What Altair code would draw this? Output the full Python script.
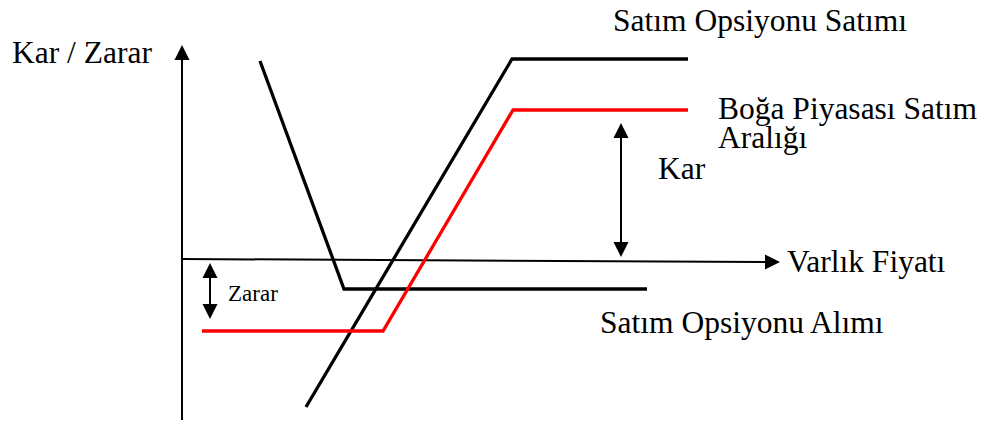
import altair as alt
import pandas as pd

# --- payoff curves (x: asset price units, y: profit / loss units) ---
sell_put_x = [12.4, 33.0, 50.6]          # Satım Opsiyonu Satımı (black)
sell_put_y = [-14.8, 20.0, 20.0]
bull_put_x = [2.0, 20.1, 33.1, 50.6]     # Boğa Piyasası Satım Aralığı (red)
bull_put_y = [-7.2, -7.2, 14.9, 14.9]
buy_put_x = [7.8, 16.2, 46.5]            # Satım Opsiyonu Alımı (black)
buy_put_y = [19.8, -3.0, -3.0]

# --- axes and double arrows (shafts) ---
axis_x_x = [0.0, 58.9]
axis_x_y = [0.0, -0.3]
axis_y_x = [0.0, 0.0]
axis_y_y = [-16.8, 20.6]
kar_x = [43.9, 43.9]
kar_y = [12.8, 1.0]
zarar_x = [2.8, 2.8]
zarar_y = [-1.2, -5.2]

# --- arrow tips ---
tips_up_x = [0.0, 43.9, 2.8]
tips_up_y = [21.4, 13.6, -0.4]
tips_down_x = [43.9, 2.8]
tips_down_y = [0.2, -6.0]
tips_right_x = [59.8]
tips_right_y = [-0.3]

# --- labels ---
label_text = ["Kar / Zarar", "Satım Opsiyonu Satımı", "Boğa Piyasası Satım", "Aralığı",
              "Kar", "Varlık Fiyatı", "Satım Opsiyonu Alımı"]
label_x = [-17.0, 43.1, 53.6, 53.6, 47.6, 60.5, 41.8]
label_y = [19.6, 22.8, 14.0, 11.1, 8.0, -1.3, -7.4]
small_text = ["Zarar"]
small_x = [4.6]
small_y = [-4.2]

XS = alt.Scale(domain=[-17.4, 79.7], nice=False, zero=False)
YS = alt.Scale(domain=[-16.1, 25.1], nice=False, zero=False)
FONT = "Liberation Serif"


def line_df(xs, ys, name):
    return pd.DataFrame({"x": xs, "y": ys, "i": list(range(len(xs))), "s": name})


def line_layer(df, color, width):
    return alt.Chart(df).mark_line(color=color, strokeWidth=width, strokeCap="butt",
                                   strokeJoin="miter").encode(
        x=alt.X("x:Q", scale=XS, axis=None),
        y=alt.Y("y:Q", scale=YS, axis=None),
        detail="s:N",
        order="i:Q",
    )


def tip_layer(xs, ys, path):
    df = pd.DataFrame({"x": xs, "y": ys})
    return alt.Chart(df).mark_point(shape=path, filled=True, color="black", opacity=1,
                                    size=225, strokeWidth=0).encode(
        x=alt.X("x:Q", scale=XS, axis=None),
        y=alt.Y("y:Q", scale=YS, axis=None),
    )


def text_layer(texts, xs, ys, size):
    df = pd.DataFrame({"t": texts, "x": xs, "y": ys})
    return alt.Chart(df).mark_text(font=FONT, fontSize=size, color="black", align="left",
                                   baseline="alphabetic").encode(
        x=alt.X("x:Q", scale=XS, axis=None),
        y=alt.Y("y:Q", scale=YS, axis=None),
        text="t:N",
    )


thin = pd.concat([
    line_df(axis_x_x, axis_x_y, "ax"),
    line_df(axis_y_x, axis_y_y, "ay"),
    line_df(kar_x, kar_y, "kar"),
    line_df(zarar_x, zarar_y, "zarar"),
])
black = pd.concat([
    line_df(sell_put_x, sell_put_y, "sell"),
    line_df(buy_put_x, buy_put_y, "buy"),
])
red = line_df(bull_put_x, bull_put_y, "bull")

chart = alt.layer(
    line_layer(thin, "black", 2),
    line_layer(black, "black", 3.3),
    line_layer(red, "#ff0000", 3.3),
    tip_layer(tips_up_x, tips_up_y, "M0,0L-1,2L1,2Z"),
    tip_layer(tips_down_x, tips_down_y, "M0,0L-1,-2L1,-2Z"),
    tip_layer(tips_right_x, tips_right_y, "M0,0L-2,-1L-2,1Z"),
    text_layer(label_text, label_x, label_y, 31.5),
    text_layer(small_text, small_x, small_y, 23),
).properties(
    width=971, height=412, padding=0, autosize="none", background="white"
).configure_view(stroke=None)

chart.save("out.html", embed_options={"renderer": "svg", "actions": False})
